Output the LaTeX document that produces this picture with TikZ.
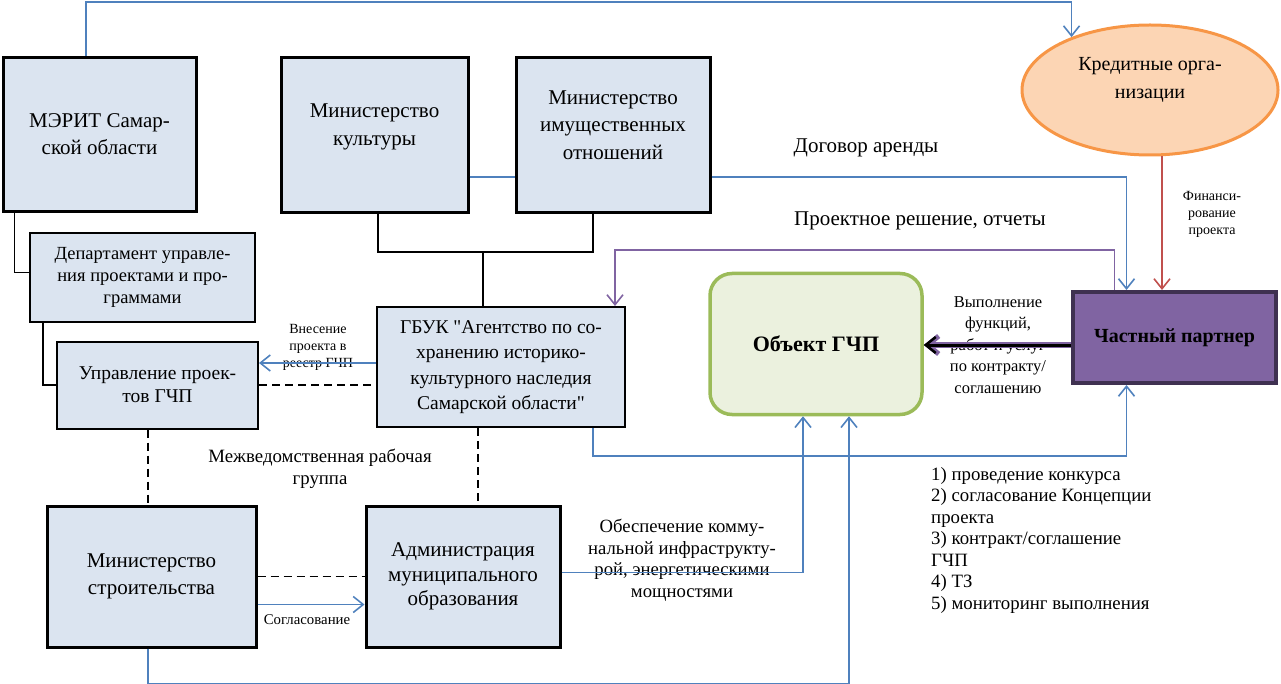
\documentclass[tikz,border=0pt]{standalone}
\usepackage{fontspec}
\setmainfont{Liberation Serif}[Ligatures=TeXOff]
\usetikzlibrary{arrows.meta,shapes.geometric,calc}
\definecolor{boxfill}{RGB}{219,228,240}
\definecolor{lblue}{RGB}{79,129,189}
\definecolor{lpurple}{RGB}{128,100,162}
\definecolor{lred}{RGB}{192,80,77}
\definecolor{peach}{RGB}{252,213,180}
\definecolor{orng}{RGB}{247,150,70}
\definecolor{ogreen}{RGB}{155,187,89}
\definecolor{ofill}{RGB}{235,241,222}
\definecolor{dpurple}{RGB}{63,49,81}
\begin{document}
\begin{tikzpicture}[x=1pt,y=-1pt,
  box/.style={draw=black, line width=3pt, fill=boxfill, align=center, inner sep=3pt, font=\fontsize{21}{27}\selectfont},
  boxb/.style={box, line width=2pt},
  btext/.style={align=center, inner sep=0pt, font=\fontsize{21}{27.5}\selectfont},
  bl/.style={draw=lblue, line width=1.6pt},
  pl/.style={draw=lpurple, line width=1.6pt},
  rl/.style={draw=lred, line width=1.6pt},
  blk/.style={draw=black, line width=1.3pt},
  dsh/.style={draw=black, line width=1.3pt, dash pattern=on 8pt off 5pt},
  arr/.style={-{Straight Barb[length=10pt,width=16pt,line width=1.6pt]}},
  lbl/.style={align=center, inner sep=0pt, font=\fontsize{18.8}{22}\selectfont},
  sml/.style={align=center, inner sep=0pt, font=\fontsize{14.8}{17}\selectfont}]
\useasboundingbox (0,0) rectangle (1281,684);

% nodes
\node[box, minimum width=193pt, minimum height=154pt] (merit) at (99.5,134.5) {МЭРИТ Самар-\\ской области};
\node[box, minimum width=187pt, minimum height=155pt] (kult) at (374.5,135) {};
\node[btext] (kultt) at ([yshift=8pt]kult.center) {Министерство\\культуры};
\node[box, minimum width=194pt, minimum height=155pt] (imush) at (613,135) {};
\node[btext] (imusht) at ([yshift=10pt]imush.center) {Министерство\\имущественных\\отношений};
\node[boxb, minimum width=225pt, minimum height=89pt, font=\fontsize{18.5}{22}\selectfont] (dep) at (142.5,277.5) {Департамент управле-\\ния проектами и про-\\граммами};
\node[boxb, minimum width=201pt, minimum height=87pt, font=\fontsize{19.5}{23}\selectfont] (upr) at (157.5,385) {Управление проек-\\тов ГЧП};
\node[boxb, minimum width=248pt, minimum height=120pt, font=\fontsize{19.5}{25.3}\selectfont] (gbuk) at (501,367) {ГБУК "Агентство по со-\\хранению историко-\\культурного наследия\\Самарской области"};
\node[draw=ogreen, fill=ofill, line width=3.5pt, rounded corners=22pt, minimum width=212pt, minimum height=141pt, font=\fontsize{22}{26}\selectfont\bfseries] (obj) at (816,344) {Объект ГЧП};
\node[draw=dpurple, fill=lpurple, line width=4pt, minimum width=203pt, minimum height=91pt, font=\fontsize{20}{24}\selectfont\bfseries] (chp) at (1174.5,337.5) {Частный партнер};
\node[ellipse, draw=orng, fill=peach, line width=3pt, inner sep=0pt, minimum width=256pt, minimum height=130pt] (kred) at (1150,90) {};
\node[btext, font=\fontsize{20}{28}\selectfont] (kredt) at ([yshift=10pt]kred.center) {Кредитные орга-\\низации};
\node[box, minimum width=209pt, minimum height=141pt] (stroy) at (151.5,576.5) {Министерство\\строительства};
\node[box, minimum width=194pt, minimum height=141pt, font=\fontsize{21}{24.5}\selectfont] (adm) at (463,576.5) {Администрация\\муниципального\\образования};

% labels
\node[lbl, font=\fontsize{21}{24}\selectfont] (ldog) at (866,148) {Договор аренды};
\node[lbl, font=\fontsize{21}{24}\selectfont] (lproj) at (920,221) {Проектное решение, отчеты};
\node[sml, font=\fontsize{14}{17}\selectfont] (lfin) at (1212,214) {Финанси-\\рование\\проекта};
\node[sml, font=\fontsize{14}{17}\selectfont] (lvn) at (318,347) {Внесение\\проекта в\\реестр ГЧП};
\node[lbl] (lmej) at (320,469) {Межведомственная рабочая\\группа};
\node[sml] (lsog) at (307,620) {Согласование};
\node[lbl, font=\fontsize{18.7}{21.5}\selectfont] (lobe) at (682,560) {Обеспечение комму-\\нальной инфраструкту-\\рой, энергетическими\\мощностями};
\node[lbl, font=\fontsize{16.5}{21.5}\selectfont] (lvyp) at (998,345) {Выполнение\\функций,\\работ и услуг\\по контракту/\\соглашению};
\node[anchor=north west, align=left, inner sep=0pt, font=\fontsize{18.8}{21.5}\selectfont] (list) at (931,467) {1) проведение конкурса\\2) согласование Концепции\\проекта\\3) контракт/соглашение\\ГЧП\\4) ТЗ\\5) мониторинг выполнения};

% coordinates
\coordinate (toprow) at (0,2);
\coordinate (jn) at (483,252);
\coordinate (k1) at ([yshift=-42pt]kult.east);
\coordinate (r1) at ([xshift=12pt]kred.south);
\coordinate (g1) at ([yshift=4pt]gbuk.west);
\coordinate (u1) at ([xshift=-9.5pt]upr.south);
\coordinate (g2) at ([xshift=-23pt]gbuk.south);
\coordinate (s1) at ([yshift=-28pt]stroy.east);
\coordinate (g3) at ([xshift=92pt]gbuk.south);
\coordinate (a1) at ([yshift=4pt]adm.east);
\coordinate (s2) at ([xshift=-3.5pt]stroy.south);
\coordinate (c1) at ([yshift=-7.5pt]chp.west);

% connectors
\draw[bl,arr] ([xshift=-13.5pt]merit.north) |- (kred.146 |- toprow) -- (kred.146);
\draw[blk] ([xshift=13pt]merit.south west) |- ([yshift=5pt]dep.west);
\draw[blk] ([xshift=14pt]dep.south west) |- (upr.west);
\draw[blk] ([xshift=3.5pt]kult.south) |- (jn) -| ([xshift=-20pt]imush.south);
\draw[blk] (jn) -- (jn |- gbuk.north);
\draw[bl] (k1) -- (k1 -| imush.west);
\draw[bl,arr] (k1 -| imush.east) -| ([xshift=-48pt]chp.north);
\draw[pl,arr] ([xshift=-60pt]chp.north) -- ++(0,-40) -| ([xshift=114pt]gbuk.north);
\draw[rl,arr] (r1) -- (r1 |- chp.north);
\draw[bl,arr] (g1) -- (g1 -| upr.east);
\draw[dsh] (upr.east) -- (upr.east -| gbuk.west);
\draw[dsh] (u1) -- (u1 |- stroy.north);
\draw[dsh] (g2) -- (g2 |- adm.north);
\draw[dsh] (stroy.east) -- (stroy.east -| adm.west);
\draw[bl,arr] (s1) -- (s1 -| adm.west);
\draw[bl,arr] (g3) -- ++(0,28) -| ([xshift=-48pt]chp.south);
\draw[bl,arr] (a1) -| ([xshift=-13pt]obj.south);
\draw[bl,arr] (s2) -- ++(0,35) -| ([xshift=33pt]obj.south);
\draw[draw=lpurple, line width=6pt, -{Straight Barb[length=11pt,width=18pt,line width=5pt]}] (c1) -- (c1 -| obj.east);
\draw[draw=black, line width=3pt, -{Straight Barb[length=10pt,width=16pt,line width=2.5pt]}] (c1) -- (c1 -| obj.east);
\end{tikzpicture}
\end{document}
